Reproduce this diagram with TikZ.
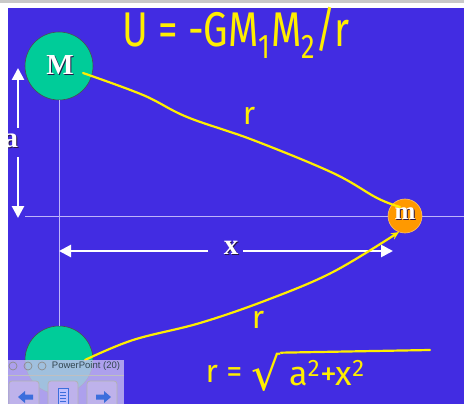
\documentclass[tikz,border=0pt]{standalone}
\usepackage{fontspec}
\setmainfont{Liberation Serif}
\setsansfont{Liberation Sans}
\newfontfamily\hand{Fira Sans}
\newfontfamily\djv{DejaVu Sans}
\usetikzlibrary{arrows.meta}
\definecolor{bgblue}{RGB}{66,44,226}
\definecolor{teal}{RGB}{0,204,153}
\definecolor{orng}{RGB}{255,153,0}
\definecolor{yel}{RGB}{255,238,0}
\definecolor{thinl}{RGB}{190,180,250}
\definecolor{topgray}{RGB}{200,200,200}
\definecolor{shad}{RGB}{40,24,70}
\definecolor{lav}{RGB}{200,190,240}
\definecolor{lavb}{RGB}{190,178,235}
\definecolor{iconblue}{RGB}{60,110,220}
\definecolor{tbtext}{RGB}{50,70,80}
\tikzset{
  guide/.style={draw=thinl, line width=0.9pt},
  bigmass/.style={circle, fill=teal, draw=black!70, line width=0.6pt, minimum size=68pt, inner sep=0pt},
  smallmass/.style={circle, fill=orng, draw=orng!60!white, line width=0.6pt, minimum size=34pt, inner sep=0pt},
  boldlbl/.style={text=white, font=\fontsize{29}{30}\selectfont\bfseries, inner sep=0pt},
  shadlbl/.style={text=shad, font=\fontsize{29}{30}\selectfont\bfseries, inner sep=0pt},
  dimarrow/.style={white, line width=2.6pt, -{Triangle[width=12pt,length=12pt]}},
  yline/.style={yel, line width=2.2pt, line cap=round},
  handtxt/.style={text=yel, inner sep=0pt},
  winbtn/.style={circle, draw=black!45, line width=0.7pt, minimum size=8pt, inner sep=0pt},
  tbbtn/.style={draw=black!30, fill=lavb, rounded corners=3pt, line width=0.7pt}
}
\begin{document}
\begin{tikzpicture}[x=1pt,y=-1pt]
\useasboundingbox (0,0) rectangle (464,404);
\clip (0,0) rectangle (464,404);
\fill[white] (0,0) rectangle (464,404);
\fill[topgray] (0,0) rectangle (464,3);
\fill[bgblue] (8,8) rectangle (464,404);

% guide lines
\coordinate (hl) at (25,216);
\coordinate (hr) at (464,216);
\draw[guide] (hl) -- (hr);

% masses
\node[bigmass] (M) at (59,66) {};
\node[bigmass] (B) at (59,360) {};
\draw[guide] (M.south) -- (B.north);
\node[smallmass] (m) at (405,216) {};

\node[shadlbl] (Msh) at (61,66) {M};
\node[boldlbl] (Ml) at (60,65) {M};
\node[shadlbl, font=\fontsize{25}{26}\selectfont\bfseries] (msh) at (406,215) {m};
\node[boldlbl, font=\fontsize{25}{26}\selectfont\bfseries] (ml) at (405,214) {m};

% dimension a
\coordinate (a1) at (18,128);
\coordinate (a2) at (18,68);
\coordinate (a3) at (18,157);
\coordinate (a4) at (18,218);
\draw[dimarrow] (a1) -- (a2);
\draw[dimarrow] (a3) -- (a4);
\node[shadlbl] (ash) at (12,142) {a};
\node[boldlbl] (al) at (11,141) {a};

% dimension x
\coordinate (x1) at (208,251);
\coordinate (x2) at (59,251);
\coordinate (x3) at (243,251);
\coordinate (x4) at (393,251);
\draw[dimarrow] (x1) -- (x2);
\draw[dimarrow] (x3) -- (x4);
\node[shadlbl] (xsh) at (232,249) {x};
\node[boldlbl] (xl) at (231,248) {x};

% left white border on top
\fill[white] (0,3) rectangle (8,404);

% yellow ink
\coordinate (s1) at (83,73);
\coordinate (e1) at (400,207);
\draw[yline] plot[smooth, tension=0.6] coordinates {(s1) (143,95) (187,117) (253,140) (333,173) (377,198) (e1)};
\coordinate (s2) at (85,360);
\coordinate (e2) at (399,232);
\draw[yline, -{Stealth[length=8pt,width=7pt]}] plot[smooth, tension=0.6] coordinates {(s2) (133,340) (200,323) (267,300) (333,272) (e2)};

\node[handtxt, font=\hand\fontsize{39}{40}\selectfont] (U) at (236,33) {\scalebox{1}[1.25]{U = -GM\textsubscript{1}M\textsubscript{2}/r}};
\node[handtxt, font=\hand\fontsize{32}{33}\selectfont] (r1) at (249,116) {r};
\node[handtxt, font=\hand\fontsize{32}{33}\selectfont] (r2) at (258,320) {r};

\node[handtxt, font=\hand\fontsize{32}{33}\selectfont] (rf) at (224,374) {r =};
\node[handtxt, font=\djv\fontsize{46}{47}\selectfont] (sq) at (266,372) {√};
\node[handtxt, font=\hand\fontsize{34}{35}\selectfont] (rad) at (327,373) {a\textsuperscript{2}+x\textsuperscript{2}};
\coordinate (vin) at (430,350);
\draw[yline] (sq.north east) -- (vin);

% PowerPoint toolbar overlay
\fill[lav, opacity=0.8] (8,360) rectangle (124,404);
\draw[black!25, line width=0.6pt] (8,375) -- (124,375);
\node[winbtn] (w1) at (13,366) {};
\node[winbtn] (w2) at (28,366) {};
\node[winbtn] (w3) at (42,366) {};
\node[text=tbtext, font=\sffamily\fontsize{9.5}{10}\selectfont, inner sep=0pt] (tbt) at (86,366.5) {PowerPoint (20)};
\draw[tbbtn] (9,381) rectangle (39,410);
\draw[tbbtn] (48,381) rectangle (78,410);
\draw[tbbtn] (87,381) rectangle (117,410);
\fill[iconblue] (18,397) -- (25,391) -- (25,394.5) -- (33,394.5) -- (33,399.5) -- (25,399.5) -- (25,403) -- cycle;
\fill[iconblue] (111,397) -- (104,391) -- (104,394.5) -- (96,394.5) -- (96,399.5) -- (104,399.5) -- (104,403) -- cycle;
\filldraw[fill=blue!25, draw=iconblue, line width=0.6pt] (58,388) rectangle (68,405);
\foreach \yy in {392,395,398,401} \draw[iconblue, line width=0.5pt] (60,\yy) -- (66,\yy);
\end{tikzpicture}
\end{document}
